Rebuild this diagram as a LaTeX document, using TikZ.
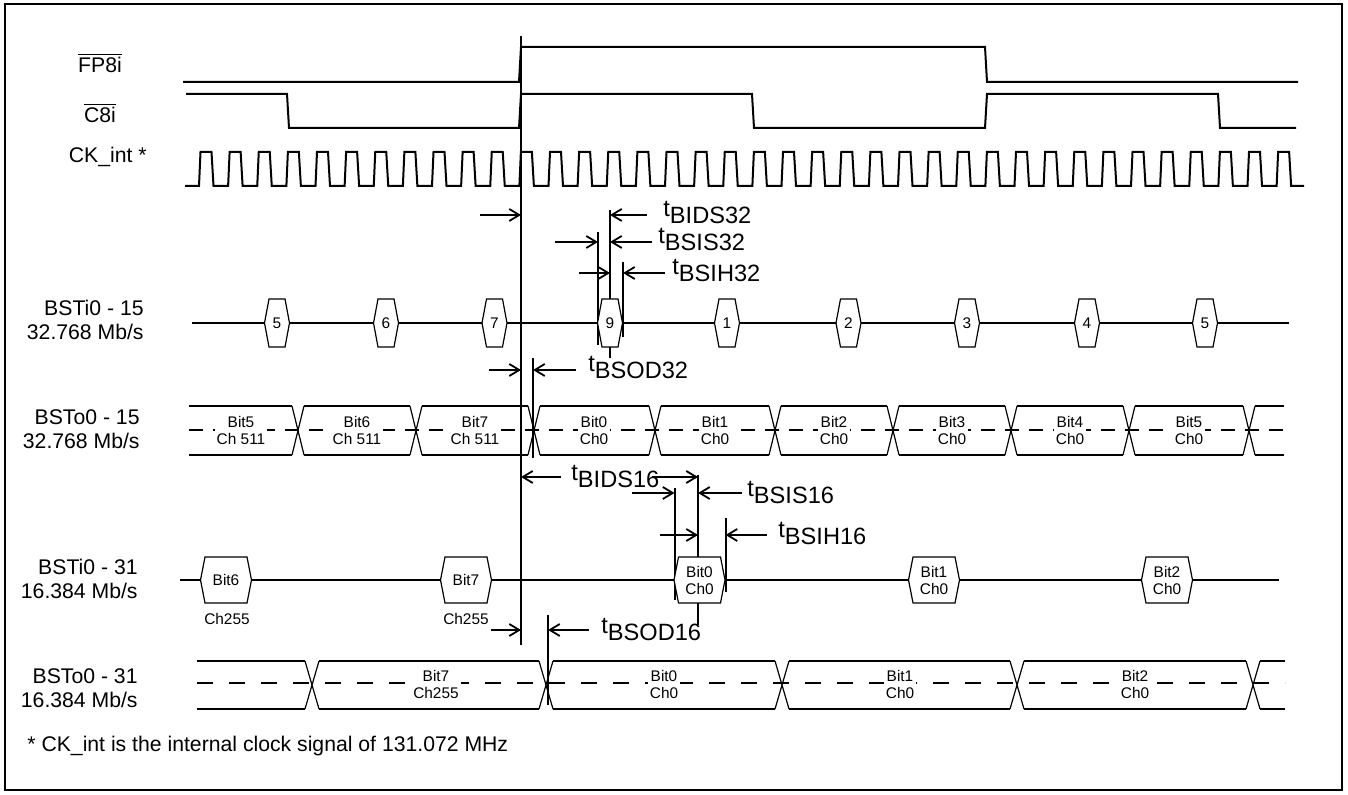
\documentclass[tikz,border=0pt]{standalone}
\usepackage{fontspec}
\setmainfont{Liberation Sans}
\usetikzlibrary{arrows.meta}

\begin{document}
\begin{tikzpicture}[x=0.5pt,y=-0.5pt]
\tikzstyle{sig}=[line width=1pt]
\tikzstyle{fine}=[line width=0.6pt]
\tikzstyle{arr}=[draw, -{Straight Barb[length=5pt,width=6pt]}, line width=0.9pt]
\tikzstyle{lbl}=[font=\fontsize{10.6}{12}\selectfont, align=right, anchor=east, inner sep=0pt]
\tikzstyle{bit}=[font=\fontsize{7.7}{8.5}\selectfont, align=center, inner sep=1pt]
\tikzstyle{tlab}=[font=\fontsize{11.8}{13}\selectfont, anchor=base west, inner sep=0pt]
\useasboundingbox (0,0) rectangle (1348,795);
\draw[line width=1.3pt] (5,4) rectangle (1342,790);

% signal names
\node[lbl, anchor=center] (fp) at (100,63) {$\overline{\mbox{FP8i}}$};
\node[lbl, anchor=center] (c8) at (100,113) {$\overline{\mbox{C8i}}$};
\node[lbl] (ck) at (147,157) {CK\_int *};
\node[lbl] (bsti15) at (144,320) {BSTi0 - 15\\32.768 Mb/s};
\node[lbl] (bsto15) at (140,429) {BSTo0 - 15\\32.768 Mb/s};
\node[lbl] (bsti31) at (138,579) {BSTi0 - 31\\16.384 Mb/s};
\node[lbl] (bsto31) at (138,688) {BSTo0 - 31\\16.384 Mb/s};
\node[lbl, anchor=west] (note) at (27,746) {* CK\_int is the internal clock signal of 131.072 MHz};

% timing lines
\coordinate (ref) at (521,36);
\coordinate (ids32) at (610,210);
\coordinate (sis32) at (598,232);
\coordinate (sih32) at (623,262);
\coordinate (od32) at (533,358);
\coordinate (ids16) at (698,475);
\coordinate (sis16) at (674.5,488);
\coordinate (sih16) at (725.5,518);
\coordinate (od16) at (548,615);
\foreach \c/\h in {ref/609, ids32/148, sis32/113, sih32/75, od32/100, ids16/150, sis16/112, sih16/74, od16/90}
  \draw[sig] (\c) -- ++(0,\h);

% FP8i, C8i, CK_int
\draw[sig] (183,82) -- (519,82) -- (521,47) -- (985,47) -- (987,82) -- (1298,82);
\draw[sig] (186,94) -- (287,94) -- (289,128) -- (519,128) -- (521,94) -- (752,94) -- (754,128)
  -- (985,128) -- (987,94) -- (1218,94) -- (1220,128) -- (1296,128);
\draw[sig] (185,186) \foreach \k in {0,...,37} { -- ({199+29.125*\k},186) -- ++(1.5,-34) -- ++(11,0) -- ++(2,34) } -- (1304,186);

% BSTi0 - 15
\draw[sig] (192,323) -- (1289,323);
\foreach \x/\n [count=\i] in {277/5,386/6,494.5/7,610/9,727/1,848.5/2,967/3,1087/4,1205/5}
  \draw[fine, fill=white] (\x-8,299) -- (\x+8,299) -- (\x+12.5,323) -- (\x+8,347) -- (\x-8,347) -- (\x-12.5,323) -- cycle
    node[bit] (i15\i) at (\x,323) {\n};

% BSTo0 - 15
\draw[sig, dash pattern=on 7pt off 5pt] (189,430) -- (1284,430);
\foreach \c in {298,416,534,655,775,893,1011,1129,1249}
  \draw[fine] (\c-6,406) -- (\c+6,455) (\c-6,455) -- (\c+6,406);
\foreach \a/\b in {183/298,298/416,416/534,534/655,655/775,775/893,893/1011,1011/1129,1129/1249,1249/1290}
  \draw[sig] (\a+6,406) -- (\b-6,406) (\a+6,455) -- (\b-6,455);
\foreach \x/\t [count=\i] in {241/{Bit5\\Ch 511},357/{Bit6\\Ch 511},475/{Bit7\\Ch 511},594/{Bit0\\Ch0},715/{Bit1\\Ch0},
    834/{Bit2\\Ch0},952/{Bit3\\Ch0},1070/{Bit4\\Ch0},1189/{Bit5\\Ch0}}
  \node[bit, fill=white] (o15\i) at (\x,430) {\t};

% BSTi0 - 31
\draw[sig] (180,580) -- (1279,580);
\foreach \x/\t [count=\i] in {226/Bit6,466/Bit7,699.5/{Bit0\\Ch0},934/{Bit1\\Ch0},1167/{Bit2\\Ch0}}
  \draw[fine, fill=white] (\x-21,557) -- (\x+21,557) -- (\x+25.5,580) -- (\x+21,603) -- (\x-21,603) -- (\x-25.5,580) -- cycle
    node[bit] (i31\i) at (\x,580) {\t};
\node[bit] (ch6) at (227,619) {Ch255};
\node[bit] (ch7) at (466,619) {Ch255};

% BSTo0 - 31
\draw[sig, dash pattern=on 8pt off 8pt] (197,683) -- (1285,683);
\foreach \c in {312,546,782,1017,1253}
  \draw[fine] (\c-7,661) -- (\c+7,709) (\c-7,709) -- (\c+7,661);
\foreach \a/\b in {190/312,312/546,546/782,782/1017,1017/1253,1253/1292}
  \draw[sig] (\a+7,661) -- (\b-7,661) (\a+7,709) -- (\b-7,709);
\foreach \x/\t [count=\i] in {436/{Bit7\\Ch255},664/{Bit0\\Ch0},900/{Bit1\\Ch0},1135/{Bit2\\Ch0}}
  \node[bit, fill=white] (o31\i) at (\x,684) {\t};

% timing labels and arrows
\foreach \x/\y/\s in {663/217/BIDS32, 658/244/BSIS32, 672/275/BSIH32, 588/372/BSOD32,
    571/481/BIDS16, 747/497/BSIS16, 778/538/BSIH16, 601/633/BSOD16}
  \node[tlab] (t\s) at (\x,\y) {t\raisebox{-3.5pt}{\s}};
\foreach \p/\q/\l in {480/215/ref, 647/215/ids32, 555/242/sis32, 652/242/ids32, 579/273/ids32, 665/273/sih32,
    489/370/ref, 576/370/od32, 561/477/ref, 652/477/ids16, 632/493/sis16, 742/493/ids16,
    660/535/ids16, 767/535/sih16, 491/630/ref, 589/630/od16}
  \draw[arr] (\p,\q) -- (\p,\q -| \l);
\end{tikzpicture}
\end{document}
